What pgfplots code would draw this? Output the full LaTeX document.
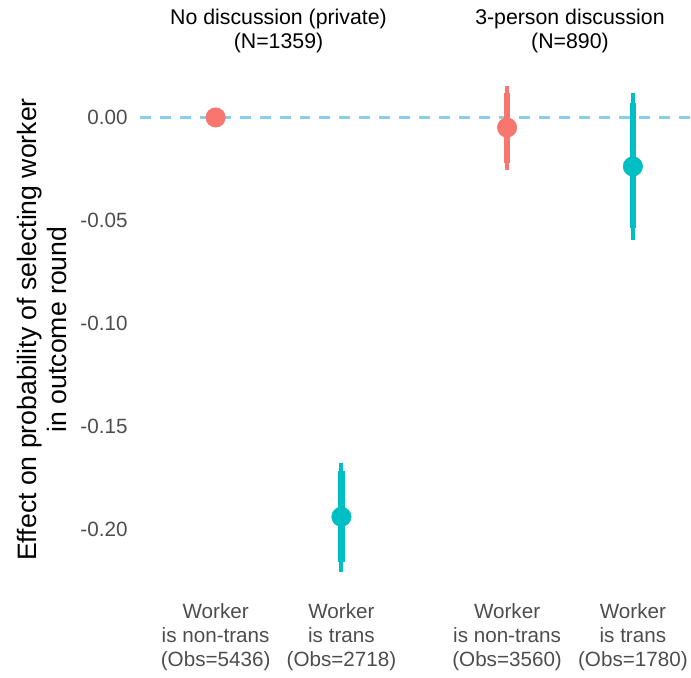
\documentclass[border=0pt]{standalone}
\usepackage{pgfplots}
\pgfplotsset{compat=1.18}
\usepackage{fontspec}
\setmainfont{Liberation Sans}
\definecolor{cred}{HTML}{F8766D}
\definecolor{cteal}{HTML}{00BFC4}
\definecolor{tgray}{HTML}{4D4D4D}
\definecolor{zline}{HTML}{8ACEE8}
\begin{document}
\begin{tikzpicture}
\begin{axis}[
  scale only axis, width=413.25pt, height=402pt,
  xmin=0.397, xmax=4.77, ymin=-0.233, ymax=0.027,
  axis line style={draw=none}, major tick length=0pt,
  ytick={-0.20,-0.15,-0.10,-0.05,0},
  yticklabels={-0.20,-0.15,-0.10,-0.05,0.00},
  yticklabel style={font=\fontsize{15.5}{18}\selectfont, text=tgray, inner sep=0pt, xshift=-9pt},
  xtick={1,2,3.317,4.317},
  xticklabels={{Worker\\is non-trans\\(Obs=5436)},{Worker\\is trans\\(Obs=2718)},{Worker\\is non-trans\\(Obs=3560)},{Worker\\is trans\\(Obs=1780)}},
  xticklabel style={align=center, font=\fontsize{15.5}{18}\selectfont, text=tgray, inner sep=0pt, yshift=-5pt},
  ylabel={Effect on probability of selecting worker\\in outcome round},
  ylabel style={at={(axis description cs:-0.1779,0.5)}, anchor=center, align=center, font=\fontsize{20}{22.5}\selectfont},
  clip=false,
]
\addplot[zline, line width=1.7pt, dash pattern=on 8.25pt off 6.75pt] coordinates {(0.397,0) (4.77,0)};
% thin CI
\addplot[cteal, line width=2.9pt] coordinates {(2,-0.221) (2,-0.168)};
\addplot[cred, line width=2.9pt] coordinates {(3.317,-0.0257) (3.317,0.0155)};
\addplot[cteal, line width=2.9pt] coordinates {(4.317,-0.0597) (4.317,0.0121)};
% thick CI
\addplot[cteal, line width=5pt] coordinates {(2,-0.216) (2,-0.1718)};
\addplot[cred, line width=5pt] coordinates {(3.317,-0.0223) (3.317,0.012)};
\addplot[cteal, line width=5pt] coordinates {(4.317,-0.0539) (4.317,0.0068)};
% points
\addplot[only marks, mark=*, mark size=7.3pt, cred, mark options={draw=none, fill=cred}] coordinates {(1,0) (3.317,-0.0049)};
\addplot[only marks, mark=*, mark size=7.3pt, cteal, mark options={draw=none, fill=cteal}] coordinates {(2,-0.194) (4.317,-0.0238)};
\node[align=center, font=\fontsize{16}{18}\selectfont, anchor=center, yshift=23pt] at (axis cs:1.5,0.027) {No discussion (private)\\(N=1359)};
\node[align=center, font=\fontsize{16}{18}\selectfont, anchor=center, yshift=23pt] at (axis cs:3.817,0.027) {3-person discussion\\(N=890)};
\end{axis}
\path[use as bounding box] (-105pt,-60.75pt) rectangle (413.25pt,448.5pt);
\end{tikzpicture}
\end{document}
